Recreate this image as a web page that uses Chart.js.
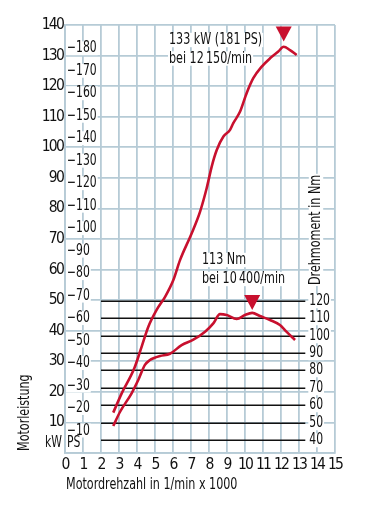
<!DOCTYPE html>
<html><head><meta charset="utf-8">
<script src="https://cdn.jsdelivr.net/npm/chart.js@4/dist/chart.umd.min.js"></script>
<style>html,body{margin:0;padding:0;background:#fff}canvas{display:block}</style>
</head><body>
<canvas id="c" width="380" height="526"></canvas>
<script>
// ---- data ----
const xTicks = [0,1,2,3,4,5,6,7,8,9,10,11,12,13,14,15];
const kwTicks = [0,10,20,30,40,50,60,70,80,90,100,110,120,130,140];
const psTicks = [10,20,30,40,50,60,70,80,90,100,110,120,130,140,150,160,170,180];
const nmTicks = [40,50,60,70,80,90,100,110,120];

const powerRpm = [2.68,3.15,3.85,4.26,4.63,5.09,5.56,6.02,6.39,7.04,7.5,7.87,8.15,8.43,8.8,9.17,9.35,9.72,10.09,10.46,10.93,11.39,11.85,12.15,12.5,12.87];
const powerKw  = [13.2,19.5,27.7,34.8,41.3,46.8,51.1,56.6,63.1,71.9,78.9,86.6,93.7,99.1,103.5,105.7,107.9,111.6,117.7,122.6,126.4,129.1,131.3,132.9,131.8,130.2];

const torqueRpm = [2.68,3.06,3.7,4.07,4.44,4.72,4.91,5.28,5.83,6.48,7.13,7.78,8.24,8.61,8.98,9.54,10.0,10.4,10.83,11.39,11.94,12.3,12.78];
const torqueNm  = [48.0,56.2,66.8,74.4,83.1,85.9,86.9,88.2,89.5,94.5,97.6,102.2,107.0,112.3,111.8,109.5,111.8,113.0,111.2,108.9,106.0,102.2,97.4];

const peakPowerRpm = 12.15, peakPowerKw = 133, peakPowerPs = 181;
const peakTorqueRpm = 10.4, peakTorqueNm = 113;
const KW_PER_PS = 0.7355;

// ---- styles ----
const FONT = '"Liberation Sans Narrow","DejaVu Sans Condensed","Arial Narrow",sans-serif';
const RED = '#c8102e';
const GRID = '#b6cbd6';
const INK = '#111111';
const SQUEEZE = 0.775;

function txt(ctx, s, x, y, align, size, bg) {
  ctx.save();
  ctx.letterSpacing = '0px';
  ctx.font = size + 'px ' + FONT;
  ctx.textAlign = align;
  ctx.textBaseline = 'middle';
  const w = ctx.measureText(s).width * SQUEEZE;
  if (bg) {
    const x0 = align === 'left' ? x : (align === 'right' ? x - w : x - w / 2);
    ctx.fillStyle = '#fff';
    ctx.fillRect(x0 - 1, y - size * 0.45, w + 2, size * 0.9);
  }
  ctx.translate(x, y);
  ctx.scale(SQUEEZE, 1);
  ctx.fillStyle = INK;
  ctx.fillText(s, 0, 0);
  ctx.restore();
}

const overlay = {
  id: 'overlay',
  beforeDraw(chart) { chart.ctx.letterSpacing = '-1.8px'; },
  beforeDatasetsDraw(chart) {
    const ctx = chart.ctx, xs = chart.scales.x, ys = chart.scales.y, y2 = chart.scales.y2;
    ctx.save();
    // torque reference lines
    ctx.strokeStyle = INK; ctx.lineWidth = 1.5;
    const xa = xs.getPixelForValue(2), xb = xs.getPixelForValue(13.35);
    nmTicks.forEach(v => {
      const y = Math.round(y2.getPixelForValue(v)) + 0.25;
      ctx.beginPath(); ctx.moveTo(xa, y); ctx.lineTo(xb, y); ctx.stroke();
      txt(ctx, String(v), xb + 4, y, 'left', 15.5, true);
    });
    // PS labels inside plot
    psTicks.forEach(v => {
      const y = ys.getPixelForValue(v * KW_PER_PS);
      txt(ctx, '\u2212' + v, chart.chartArea.left + 2, y, 'left', 15.5, true);
    });
    // annotations
    const L1 = chart.chartArea.left + 104;
    txt(ctx, peakPowerKw + ' kW (' + peakPowerPs + ' PS)', L1, 40, 'left', 16, true);
    txt(ctx, 'bei 12\u2009150/min', L1, 58.5, 'left', 16, true);
    const L2 = chart.chartArea.left + 137;
    txt(ctx, peakTorqueNm + ' Nm', L2, 260, 'left', 16, true);
    txt(ctx, 'bei 10\u2009400/min', L2, 279, 'left', 16, true);
    // right axis title
    ctx.save();
    ctx.translate(316, 285); ctx.rotate(-Math.PI / 2);
    txt(ctx, 'Drehmoment in Nm', 0, 0, 'left', 16, true);
    ctx.restore();
    ctx.restore();
  },
  afterDraw(chart) {
    const ctx = chart.ctx, xs = chart.scales.x, ys = chart.scales.y, y2 = chart.scales.y2;
    ctx.save();
    ctx.letterSpacing = '0px';
    // peak markers
    const tri = (x, yTip) => {
      ctx.fillStyle = RED;
      ctx.beginPath();
      ctx.moveTo(x - 8, yTip - 15); ctx.lineTo(x + 8, yTip - 15); ctx.lineTo(x, yTip);
      ctx.closePath(); ctx.fill();
    };
    tri(xs.getPixelForValue(peakPowerRpm), ys.getPixelForValue(peakPowerKw) - 5);
    tri(xs.getPixelForValue(peakTorqueRpm), y2.getPixelForValue(peakTorqueNm) - 3);
    // unit labels
    txt(ctx, 'kW', chart.chartArea.left - 3, 443, 'right', 15.5, false);
    txt(ctx, 'PS', chart.chartArea.left + 2, 443, 'left', 15.5, false);
    // axis titles
    txt(ctx, 'Motordrehzahl in 1/min x 1000', chart.chartArea.left + 1, 485, 'left', 16, false);
    ctx.save();
    ctx.translate(25, 451); ctx.rotate(-Math.PI / 2);
    txt(ctx, 'Motorleistung', 0, 0, 'left', 16, false);
    ctx.restore();
    ctx.restore();
  }
};

new Chart(document.getElementById('c'), {
  type: 'line',
  data: {
    datasets: [
      { data: powerRpm.map((x, i) => ({x, y: powerKw[i]})), yAxisID: 'y',
        borderColor: RED, borderWidth: 2.6, pointRadius: 0, cubicInterpolationMode: 'monotone', fill: false },
      { data: torqueRpm.map((x, i) => ({x, y: torqueNm[i]})), yAxisID: 'y2',
        borderColor: RED, borderWidth: 2.6, pointRadius: 0, cubicInterpolationMode: 'monotone', fill: false }
    ]
  },
  options: {
    responsive: false, devicePixelRatio: 1, animation: false,
    layout: { padding: { top: 25, right: 45, left: 0, bottom: 0 } },
    plugins: { legend: { display: false }, tooltip: { enabled: false } },
    scales: {
      x: {
        type: 'linear', min: 0, max: 15,
        afterBuildTicks: s => { s.ticks = xTicks.map(v => ({value: v})); },
        afterFit: s => { s.height = 73; },
        grid: { color: GRID, lineWidth: 1.8, drawTicks: false },
        border: { color: GRID, width: 1.8 },
        ticks: { padding: 3, color: INK, font: { family: FONT, size: 15.5 }, maxRotation: 0, autoSkip: false }
      },
      y: {
        type: 'linear', min: 0, max: 140, position: 'left',
        afterBuildTicks: s => { s.ticks = kwTicks.map(v => ({value: v})); },
        afterFit: s => { s.width = 65; },
        grid: { color: GRID, lineWidth: 1.8, drawTicks: false },
        border: { color: GRID, width: 1.8 },
        ticks: { padding: 2, color: INK, font: { family: FONT, size: 15.5 },
                 callback: v => v === 0 ? '' : String(v) }
      },
      y2: {
        type: 'linear', min: 32.5, max: 278.4, position: 'right', display: false,
        grid: { display: false }
      }
    }
  },
  plugins: [overlay]
});
</script>
</body></html>
